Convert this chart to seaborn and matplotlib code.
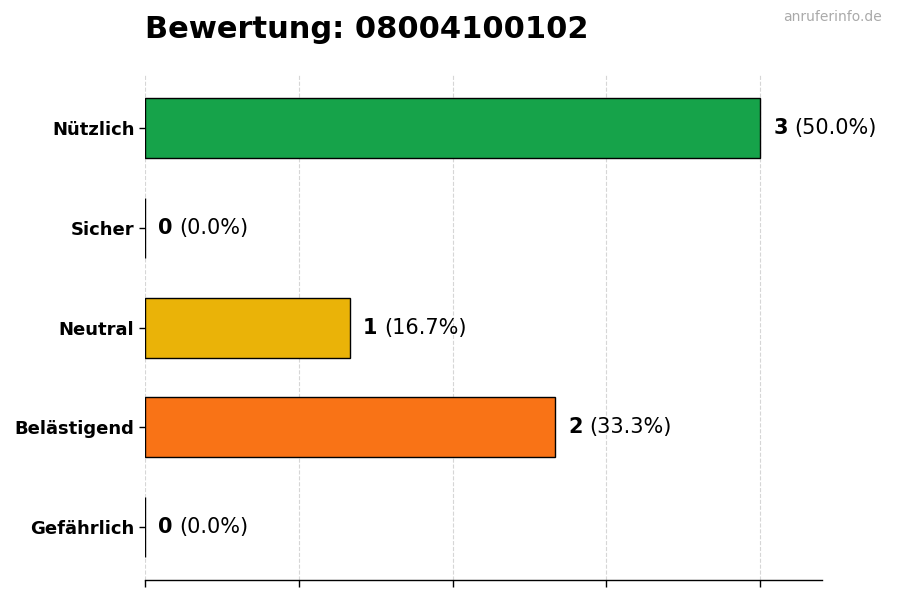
import matplotlib
matplotlib.use("Agg")
import matplotlib.pyplot as plt
import seaborn as sns
import pandas as pd

categories = ["Nützlich", "Sicher", "Neutral", "Belästigend", "Gefährlich"]
counts = [3, 0, 1, 2, 0]
percents = [50.0, 0.0, 16.7, 33.3, 0.0]
colors = ["#16a34a", "#3b82f6", "#eab308", "#f97316", "#dc2626"]
title = "Bewertung: 08004100102"
watermark = "anruferinfo.de"

sns.set_theme(style="white")
plt.rcParams['font.family'] = ['DejaVu Sans']
plt.rcParams['text.color'] = 'black'
plt.rcParams['axes.labelcolor'] = 'black'
plt.rcParams['xtick.color'] = 'black'
plt.rcParams['ytick.color'] = 'black'

df = pd.DataFrame({"cat": categories, "count": counts})

fig = plt.figure(figsize=(9, 6), dpi=100)
ax = fig.add_axes([0.161, 0.033, 0.752, 0.842])

sns.barplot(data=df, y="cat", x="count", hue="cat", palette=colors, legend=False,
            orient="h", width=0.6, edgecolor="black", linewidth=1.0, ax=ax, saturation=1)

ax.set_xlim(0, 3.3)
ax.set_ylim(4.53, -0.53)
ax.set_xticks([0, 0.75, 1.5, 2.25, 3.0])
ax.set_xticklabels([])
ax.tick_params(axis="x", length=5, width=1, color="black", bottom=True)
ax.tick_params(axis="y", length=4, width=1, color="black", left=True, labelsize=13,
               labelcolor="black")
for lbl in ax.get_yticklabels():
    lbl.set_fontweight("bold")
ax.set_xlabel("")
ax.set_ylabel("")
for s in ["top", "right", "left"]:
    ax.spines[s].set_visible(False)
ax.spines["bottom"].set_color("black")
ax.spines["bottom"].set_linewidth(1)
ax.grid(axis="x", linestyle="--", color="#cccccc", linewidth=0.8, alpha=0.8)
ax.set_axisbelow(True)

fig.canvas.draw()
renderer = fig.canvas.get_renderer()
for i, (c, pct) in enumerate(zip(counts, percents)):
    t1 = ax.annotate(f"{c}", xy=(c, i), xytext=(9.5, 0), textcoords="offset points",
                     va="center", ha="left", fontsize=15, fontweight="bold", color="black")
    fig.canvas.draw()
    bb = t1.get_window_extent(renderer)
    w_pts = bb.width * 72 / fig.dpi
    ax.annotate(f"({pct:.1f}%)", xy=(c, i), xytext=(9.5 + w_pts + 4.8, 0), textcoords="offset points",
                va="center", ha="left", fontsize=15, color="black")

fig.text(0.161, 0.95, title, fontsize=22, fontweight="bold", ha="left", va="center", color="black")
fig.text(0.98, 0.972, watermark, fontsize=10, color="#aaaaaa", ha="right", va="center")

fig.savefig("out.png", dpi=100)
